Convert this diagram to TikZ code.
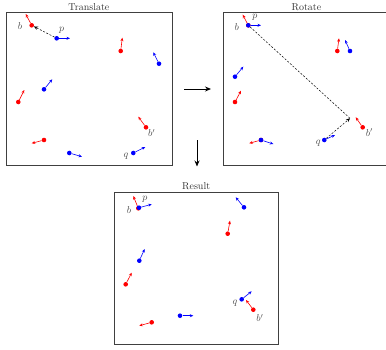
\documentclass[tikz,border=0pt]{standalone}
\usetikzlibrary{arrows.meta,positioning}

\begin{document}
\begin{tikzpicture}[x=1pt,y=-1pt,
    panel/.style={rectangle,draw=black!75,line width=0.8pt,minimum width=166pt,minimum height=153pt,inner sep=0pt},
    title/.style={inner sep=1pt,text=black!80},
    rdot/.style={circle,fill=red,inner sep=0pt,minimum size=4.6pt},
    bdot/.style={circle,fill=blue,inner sep=0pt,minimum size=4.6pt},
    vec/.style={draw=#1,line width=0.6pt,-{Stealth[length=3.5pt,width=3pt]}},
    lbl/.style={text=black!70,inner sep=0pt},
    move/.style={draw=black,line width=0.5pt,dash pattern=on 2pt off 1.6pt},
    step arrow/.style={draw=black,line width=0.9pt,-{Stealth[length=6pt,width=5pt]}}]
  \useasboundingbox (0,0) rectangle (386,349);
  \clip (0,0) rectangle (386,349);

  % frames
  \node[panel] (translate) at (88.9,88.8) {};
  \node[panel] (rotate) at (306.5,88.8) {};
  \node[panel,minimum width=164pt,minimum height=152pt] (result) at (196.2,268) {};
  \node[title,above=0.2pt of translate] (ttitle) {Translate};
  \node[title,above=0.2pt of rotate] (rtitle) {Rotate};
  \node[title,above=0.2pt of result] (restitle) {Result};

  % Translate
  \foreach \n/\x/\y/\ex/\ey in {tb/31.7/25.3/25.7/14, t2/120.7/51/122.3/37.7, t3/18.3/102/24.3/90,
      tbb/146/127.3/138.3/116.7, t5/44/140/31.7/143.3}{
    \node[rdot] (\n) at (\x,\y) {};
    \coordinate (\n-e) at (\ex,\ey);
    \draw[vec=red] (\n) -- (\n-e);
  }
  \foreach \n/\x/\y/\ex/\ey in {tp/56.7/38.3/70/38.3, t7/159/63.7/153.3/52.3, t8/44/89.3/52.3/79.3,
      t9/69.3/153/82/156.7, tq/133.3/153/145.3/147}{
    \node[bdot] (\n) at (\x,\y) {};
    \coordinate (\n-e) at (\ex,\ey);
    \draw[vec=blue] (\n) -- (\n-e);
  }
  \draw[move,-{Stealth[length=4pt,width=3.5pt]}] (tp) -- (tb);
  \node[lbl] (tbl) at (20,26) {$b$};
  \node[lbl] (tpl) at (61.7,30) {$p$};
  \node[lbl] (tbbl) at (151.7,133) {$b'$};
  \node[lbl] (tql) at (126,156) {$q$};

  % Rotate
  \foreach \n/\x/\y/\ex/\ey in {rb/248.3/25.3/242.7/14.7, r2/337.3/51/339/38.3, r3/235/102/241/90.7,
      rbb/362.7/127.3/355.7/117.3, r5/261/140/249.3/143.3}{
    \node[rdot] (\n) at (\x,\y) {};
    \coordinate (\n-e) at (\ex,\ey);
    \draw[vec=red] (\n) -- (\n-e);
  }
  \foreach \n/\x/\y/\ex/\ey in {rp/248.3/25.3/261/25.3, r7/350/51/345/40, r8/235/76.7/243.3/66.7,
      rq/324.3/140/335/135, r9/261/140/273.3/144}{
    \node[bdot] (\n) at (\x,\y) {};
    \coordinate (\n-e) at (\ex,\ey);
    \draw[vec=blue] (\n) -- (\n-e);
  }
  \coordinate (meet) at (350,118.3);
  \draw[move] (rp) -- (meet);
  \draw[move,-{Stealth[length=4pt,width=3.5pt]}] (rq) -- (meet);
  \node[lbl] (rbl) at (236.7,27) {$b$};
  \node[lbl] (rpl) at (255,17.3) {$p$};
  \node[lbl] (rbbl) at (369.3,132.5) {$b'$};
  \node[lbl] (rql) at (318.3,143.5) {$q$};

  % Result
  \foreach \n/\x/\y/\ex/\ey in {sb/138.3/208.3/133.3/196, s2/227.7/233.7/230/220.7, s3/125.7/284.3/131.7/272.7,
      sbb/253.3/309.7/246/300, s5/151.7/322.3/139.3/325.7}{
    \node[rdot] (\n) at (\x,\y) {};
    \coordinate (\n-e) at (\ex,\ey);
    \draw[vec=red] (\n) -- (\n-e);
  }
  \foreach \n/\x/\y/\ex/\ey in {sp/139/207.7/151.7/204.3, s7/244/207.3/235.7/197.3, s8/139.3/260.7/144.7/249,
      sq/241.7/299.3/251.7/291.3, s9/180/315.7/193.3/315.7}{
    \node[bdot] (\n) at (\x,\y) {};
    \coordinate (\n-e) at (\ex,\ey);
    \draw[vec=blue] (\n) -- (\n-e);
  }
  \node[lbl] (sbl) at (129,210) {$b$};
  \node[lbl] (spl) at (145,199) {$p$};
  \node[lbl] (sql) at (235,303.5) {$q$};
  \node[lbl] (sbbl) at (260,318) {$b'$};

  % steps
  \coordinate (a1) at (184,89);
  \coordinate (a2) at (211,89);
  \coordinate (a3) at (197,140);
  \coordinate (a4) at (197,166.5);
  \draw[step arrow] (a1) -- (a2);
  \draw[step arrow] (a3) -- (a4);
\end{tikzpicture}
\end{document}
